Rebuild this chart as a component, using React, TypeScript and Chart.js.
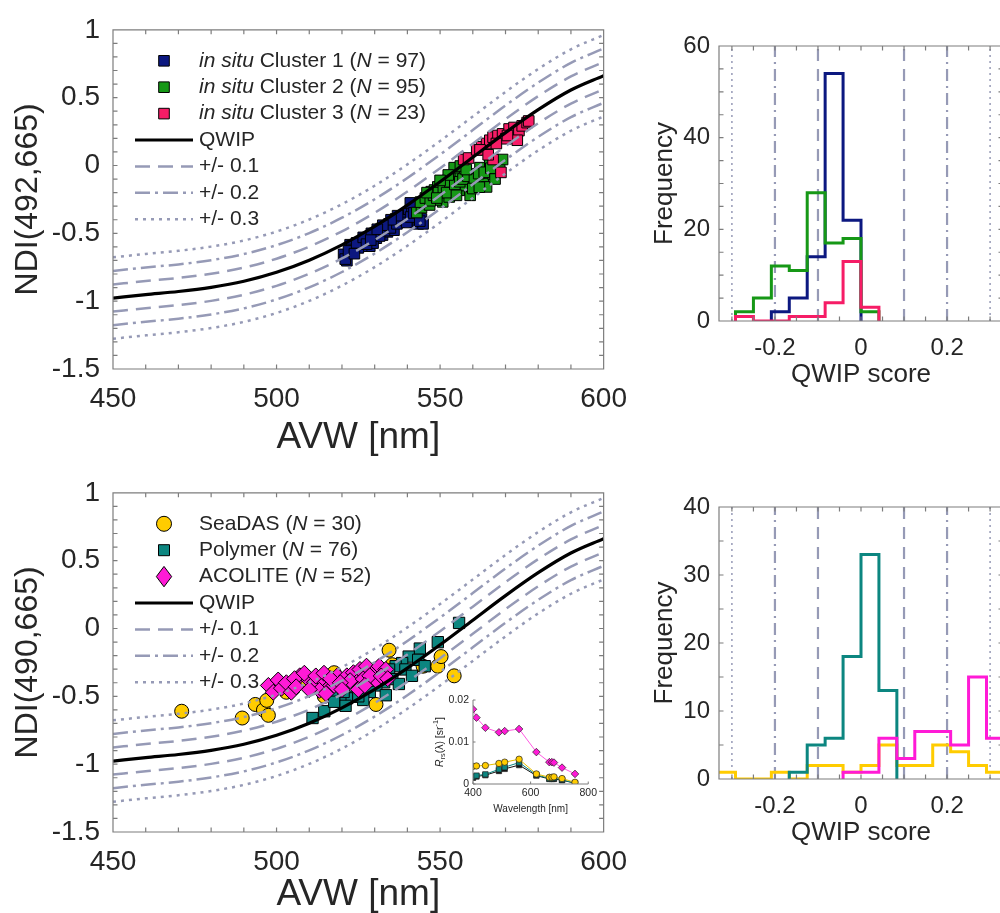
import React, { useEffect, useRef } from 'react';
import { Chart, registerables } from 'chart.js';

Chart.register(...registerables);

const FONT = '"Liberation Sans", Arial, Helvetica, sans-serif';
const INK = '#262626';
const AXIS = '#7d7d7d';
const REF = 'rgb(150,154,182)';

const BLUE = 'rgb(12,24,128)';
const GREEN = 'rgb(22,152,22)';
const CRIMSON = 'rgb(246,28,102)';
const TEAL = 'rgb(12,134,128)';
const GOLD = 'rgb(255,204,0)';
const MAGENTA = 'rgb(255,26,214)';

// ---------------- QWIP reference curve (read every 10 nm) ----------------
const AVW_GRID = [450, 460, 470, 480, 490, 500, 510, 520, 530, 540, 550, 560, 570, 580, 590, 600];
const QWIP_NDI = [-0.977, -0.952, -0.929, -0.898, -0.853, -0.787, -0.698, -0.585, -0.449, -0.292, -0.12, 0.061, 0.242, 0.411, 0.556, 0.662];
const BAND_OFFSETS = [0.1, 0.2, 0.3];
const BAND_DASH = [[15, 8], [15, 5, 3, 5], [3, 5]];
const BAND_LABELS = ['+/- 0.1', '+/- 0.2', '+/- 0.3'];

// ---------------- axes ----------------
const AVW_TICKS = [450, 500, 550, 600];
const AVW_MINOR = [460, 470, 480, 490, 510, 520, 530, 540, 560, 570, 580, 590];
const NDI_TICKS = [-1.5, -1, -0.5, 0, 0.5, 1];
const NDI_MINOR = [-1.4, -1.3, -1.2, -1.1, -0.9, -0.8, -0.7, -0.6, -0.4, -0.3, -0.2, -0.1, 0.1, 0.2, 0.3, 0.4, 0.6, 0.7, 0.8, 0.9];
const SCORE_TICKS = [-0.2, 0, 0.2];
const SCORE_MINOR = [-0.3, -0.25, -0.15, -0.1, -0.05, 0.05, 0.1, 0.15, 0.25, 0.3];
const FREQ_TICKS_TOP = [0, 20, 40, 60];
const FREQ_MINOR_TOP = [5, 10, 15, 25, 30, 35, 45, 50, 55];
const FREQ_TICKS_BOT = [0, 10, 20, 30, 40];
const FREQ_MINOR_BOT = [5, 15, 25, 35];
const SCORE_REF_LINES = [-0.3, -0.2, -0.1, 0.1, 0.2, 0.3];
const SCORE_REF_STYLE = [2, 1, 0, 0, 1, 2];

// ---------------- top scatter: in situ clusters ----------------
const C1_AVW = [520.5, 521.5, 522.5, 523.0, 521.0, 527.0, 528.0, 528.5, 530.0, 531.0, 532.0, 532.4, 533.4, 534.4, 535.4, 536.4, 537.4, 538.4, 539.4, 540.4, 541.4, 542.4, 543.3, 544.3, 544.8, 540.9, 530.5, 529.5, 533.9, 535.9, 526.0, 525.0,
  522.0, 523.8, 524.5, 526.5, 527.5, 529.0, 531.5, 533.0, 534.8, 536.8, 538.0, 539.8, 541.0, 542.0, 543.8, 537.0, 535.0, 532.5, 530.8, 528.8];
const C1_NDI = [-0.655, -0.702, -0.584, -0.619, -0.69, -0.56, -0.536, -0.595, -0.513, -0.489, -0.465, -0.513, -0.453, -0.43, -0.442, -0.394, -0.418, -0.371, -0.394, -0.347, -0.323, -0.418, -0.43, -0.394, -0.43, -0.276, -0.536, -0.572, -0.489, -0.477, -0.595, -0.607,
  -0.63, -0.65, -0.57, -0.53, -0.58, -0.5, -0.52, -0.48, -0.46, -0.43, -0.4, -0.42, -0.38, -0.35, -0.41, -0.37, -0.4, -0.44, -0.47, -0.55];
const C2_AVW = [542.9, 544.3, 545.3, 546.3, 547.3, 548.3, 549.3, 550.3, 551.3, 552.3, 553.3, 554.3, 555.3, 556.2, 557.2, 558.2, 559.2, 559.7, 560.2, 561.2, 562.2, 563.2, 564.2, 565.2, 566.2, 567.2, 568.2, 569.1, 550.8, 552.8, 555.8, 557.7, 546.8, 548.8, 554.3, 556.2,
  544.0, 545.5, 547.0, 548.0, 549.5, 551.0, 552.0, 553.0, 554.5, 556.0, 557.0, 558.5, 560.5, 561.8, 563.5, 565.5, 566.8, 558.0, 552.5, 550.0, 546.0, 549.0, 555.0, 560.0, 562.0];
const C2_NDI = [-0.347, -0.311, -0.276, -0.229, -0.193, -0.181, -0.158, -0.217, -0.134, -0.11, -0.158, -0.087, -0.063, -0.087, -0.039, -0.18, -0.22, -0.158, -0.063, -0.11, -0.016, -0.134, -0.158, 0.008, -0.063, 0.032, -0.016, 0.044, -0.268, -0.232, -0.183, -0.148, -0.291, -0.254, -0.016, -0.004,
  -0.27, -0.24, -0.26, -0.22, -0.2, -0.18, -0.2, -0.12, -0.14, -0.12, -0.1, -0.08, -0.1, -0.06, -0.05, -0.02, -0.1, -0.03, -0.07, -0.11, -0.2, -0.24, -0.22, -0.17, -0.16];
const C3_AVW = [557.2, 558.7, 561.2, 562.7, 564.2, 565.2, 566.2, 567.7, 569.1, 570.1, 571.1, 572.6, 574.1, 575.1, 576.6, 577.1, 573.6, 566.2, 568.6, 562.2, 564.7, 567.2, 570.6];
const C3_NDI = [0.044, 0.055, 0.115, 0.138, 0.162, 0.186, 0.209, 0.221, 0.233, 0.197, 0.269, 0.28, 0.257, 0.292, 0.316, 0.328, 0.186, 0.044, -0.051, 0.115, 0.079, 0.162, 0.221];

// ---------------- bottom scatter: satellite processors ----------------
const SEADAS_AVW = [471.0, 489.5, 493.5, 496.0, 497.5, 497.0, 503.0, 509.0, 514.6, 517.6, 530.4, 534.4, 535.4, 544.8, 549.3, 550.3, 554.3];
const SEADAS_NDI = [-0.61, -0.66, -0.56, -0.6, -0.64, -0.53, -0.47, -0.38, -0.5, -0.326, -0.56, -0.16, -0.267, -0.278, -0.278, -0.207, -0.349];
const POLY_AVW = [555.8, 549.3, 543.8, 540.4, 538.4, 536.4, 534.4, 539.4, 541.4, 535.4, 532.9, 530.5, 528.5, 525.5, 523.5, 521.5, 519.5, 517.6, 531.4, 537.4, 533.4, 526.5, 520.5, 543.3, 545.3, 511.0, 514.6, 517.6, 521.1, 525.0];
const POLY_NDI = [0.041, -0.101, -0.148, -0.207, -0.255, -0.278, -0.302, -0.302, -0.349, -0.373, -0.397, -0.42, -0.468, -0.48, -0.503, -0.515, -0.539, -0.503, -0.349, -0.409, -0.492, -0.527, -0.468, -0.231, -0.278, -0.66, -0.61, -0.54, -0.57, -0.5];
const ACO_AVW = [507.1, 509.6, 511.6, 513.6, 515.6, 518.6, 521.5, 523.5, 525.5, 527.5, 529.5, 531.4, 533.4, 524.5, 522.5, 526.5, 530.5, 528.5, 517.6, 513.1, 515.1, 497.5, 499.0, 500.5, 501.5, 503.0, 504.5, 505.5, 506.0, 508.5, 510.0, 512.0, 514.5, 516.5, 519.5, 520.0, 525.0, 527.0, 532.0, 534.0];
const ACO_NDI = [-0.349, -0.373, -0.397, -0.373, -0.444, -0.349, -0.349, -0.326, -0.302, -0.278, -0.326, -0.278, -0.302, -0.397, -0.385, -0.373, -0.385, -0.349, -0.42, -0.456, -0.48, -0.42, -0.47, -0.38, -0.44, -0.4, -0.47, -0.37, -0.43, -0.33, -0.45, -0.35, -0.33, -0.37, -0.4, -0.45, -0.45, -0.42, -0.35, -0.37];

// ---------------- histograms (bin width 1/24, first bin index, counts) ----------------
const BIN_WIDTH = 1 / 24;
const H_C1_FIRST = -5;
const H_C1_COUNTS = [2, 5, 14, 54, 22];
const H_C2_FIRST = -7;
const H_C2_COUNTS = [2, 5, 12, 11, 28, 17, 18, 2];
const H_C3_FIRST = -7;
const H_C3_COUNTS = [1, 0, 0, 1, 1, 4, 13, 3];
const H_SEADAS_FIRST = -8;
const H_SEADAS_COUNTS = [1, 0, 0, 1, 0, 2, 2, 1, 2, 5, 2, 2, 5, 4, 2, 1];
const H_POLY_FIRST = -4;
const H_POLY_COUNTS = [1, 5, 6, 18, 33, 13];
const H_ACO_FIRST = -1;
const H_ACO_COUNTS = [1, 1, 6, 3, 7, 7, 5, 15, 6, 1];

// ---------------- inset spectra ----------------
const WAVELENGTH = [400, 412, 443, 490, 510, 560, 620, 665, 674, 681, 709, 754];
const RRS_ACOLITE = [0.0178, 0.0158, 0.0134, 0.0123, 0.0126, 0.0131, 0.0076, 0.0052, 0.0052, 0.0051, 0.0039, 0.0024];
const RRS_SEADAS = [0.0042, 0.0043, 0.0044, 0.0049, 0.0052, 0.0059, 0.0024, 0.0016, 0.0016, 0.0017, 0.0013, 0.0004];
const RRS_POLYMER = [0.0017, 0.002, 0.0023, 0.0035, 0.004, 0.0051, 0.0022, 0.0013, 0.0013, 0.0014, 0.001, 0.0002];
const RRS_INSITU = [0.0015, 0.0018, 0.0021, 0.0031, 0.0036, 0.0045, 0.002, 0.0012, 0.0012, 0.0012, 0.0009, 0.0002];
const WL_TICKS = [400, 600, 800];
const RRS_TICKS = [0, 0.01, 0.02];

// ---------------- legend text ----------------
const TOP_LABELS: any[] = [
  [['in situ', true], [' Cluster 1 ('], ['N', true], [' = 97)']],
  [['in situ', true], [' Cluster 2 ('], ['N', true], [' = 95)']],
  [['in situ', true], [' Cluster 3 ('], ['N', true], [' = 23)']],
];
const BOTTOM_LABELS: any[] = [
  [['SeaDAS ('], ['N', true], [' = 30)']],
  [['Polymer ('], ['N', true], [' = 76)']],
  [['ACOLITE ('], ['N', true], [' = 52)']],
];

// ================= helpers =================
const pts = (xs: number[], ys: number[]) => xs.map((x, i) => ({ x, y: ys[i] }));

function partsWidth(ctx: any, parts: any[], size: number) {
  let w = 0;
  for (const p of parts) {
    const s = p[2] ? size * 0.7 : size;
    ctx.font = `${p[1] ? 'italic ' : ''}${s}px ${FONT}`;
    w += ctx.measureText(p[0]).width;
  }
  return w;
}

function drawParts(ctx: any, parts: any[], x: number, y: number, size: number) {
  ctx.fillStyle = INK;
  ctx.textBaseline = 'middle';
  ctx.textAlign = 'left';
  let cx = x;
  for (const p of parts) {
    const s = p[2] ? size * 0.7 : size;
    ctx.font = `${p[1] ? 'italic ' : ''}${s}px ${FONT}`;
    const dy = p[2] === 'sub' ? size * 0.3 : p[2] === 'sup' ? -size * 0.38 : 0;
    ctx.fillText(p[0], cx, y + dy);
    cx += ctx.measureText(p[0]).width;
  }
}

function drawMarker(ctx: any, shape: string, x: number, y: number, size: number, fill: string) {
  ctx.save();
  ctx.fillStyle = fill;
  ctx.strokeStyle = '#000';
  ctx.lineWidth = 1;
  ctx.setLineDash([]);
  ctx.beginPath();
  if (shape === 'rect') ctx.rect(x - size / 2, y - size / 2, size, size);
  else if (shape === 'circle') ctx.arc(x, y, size / 2, 0, Math.PI * 2);
  else {
    ctx.moveTo(x, y - size * 0.6);
    ctx.lineTo(x + size * 0.45, y);
    ctx.lineTo(x, y + size * 0.6);
    ctx.lineTo(x - size * 0.45, y);
    ctx.closePath();
  }
  ctx.fill();
  ctx.stroke();
  ctx.restore();
}

const framePlugin = {
  id: 'frame',
  afterDatasetsDraw(chart: any, _a: any, o: any) {
    const { ctx, chartArea: a } = chart;
    const xs = chart.scales.x;
    const ys = chart.scales.y;
    ctx.save();
    ctx.strokeStyle = o.color;
    ctx.lineWidth = o.lineWidth;
    ctx.setLineDash([]);
    ctx.beginPath();
    if (o.box) ctx.rect(a.left, a.top, a.right - a.left, a.bottom - a.top);
    else {
      ctx.moveTo(a.left, a.top);
      ctx.lineTo(a.left, a.bottom);
      ctx.lineTo(a.right, a.bottom);
    }
    const L = o.len;
    const xv = [...xs.ticks.map((t: any) => t.value), ...(o.xMinor || [])];
    for (const v of xv) {
      const p = xs.getPixelForValue(v);
      if (p < a.left - 0.5 || p > a.right + 0.5) continue;
      ctx.moveTo(p, a.bottom);
      ctx.lineTo(p, a.bottom - L);
      if (o.box) {
        ctx.moveTo(p, a.top);
        ctx.lineTo(p, a.top + L);
      }
    }
    const yv = [...ys.ticks.map((t: any) => t.value), ...(o.yMinor || [])];
    for (const v of yv) {
      const p = ys.getPixelForValue(v);
      if (p < a.top - 0.5 || p > a.bottom + 0.5) continue;
      ctx.moveTo(a.left, p);
      ctx.lineTo(a.left + L, p);
      if (o.box) {
        ctx.moveTo(a.right, p);
        ctx.lineTo(a.right - L, p);
      }
    }
    ctx.stroke();
    ctx.restore();
  },
};

const legendPlugin = {
  id: 'qlegend',
  afterDraw(chart: any, _a: any, o: any) {
    if (!o || !o.items) return;
    const { ctx, chartArea: a } = chart;
    ctx.save();
    o.items.forEach((it: any, k: number) => {
      const y = a.top + o.y0 + k * o.step;
      if (it.kind === 'line') {
        ctx.save();
        ctx.strokeStyle = it.color;
        ctx.lineWidth = it.width;
        ctx.setLineDash(it.dash);
        ctx.beginPath();
        ctx.moveTo(a.left + o.lx0, y);
        ctx.lineTo(a.left + o.lx1, y);
        ctx.stroke();
        ctx.restore();
      } else {
        drawMarker(ctx, it.shape, a.left + o.mx, y, it.size, it.color);
      }
      drawParts(ctx, it.parts, a.left + o.tx, y, o.size);
    });
    ctx.restore();
  },
};

const insetTitlePlugin = {
  id: 'insetTitle',
  afterDraw(chart: any, _a: any, o: any) {
    if (!o || !o.parts) return;
    const { ctx, chartArea: a } = chart;
    ctx.save();
    const w = partsWidth(ctx, o.parts, o.size);
    ctx.translate(a.left - o.dx, (a.top + a.bottom) / 2);
    ctx.rotate(-Math.PI / 2);
    drawParts(ctx, o.parts, -w / 2, 0, o.size);
    ctx.restore();
  },
};

function fixedTicks(values: number[]) {
  return (s: any) => {
    s.ticks = values.map((v) => ({ value: v }));
  };
}

function bandDatasets() {
  const out: any[] = [];
  BAND_OFFSETS.forEach((b, k) => {
    [1, -1].forEach((sg) => {
      out.push({
        data: AVW_GRID.map((x, i) => ({ x, y: QWIP_NDI[i] + sg * b })),
        showLine: true,
        pointRadius: 0,
        borderColor: REF,
        borderWidth: 2.5,
        borderDash: BAND_DASH[k],
        cubicInterpolationMode: 'monotone',
        order: 1,
      });
    });
  });
  return out;
}

function legendItems(markers: any[], labels: any[]) {
  const items: any[] = markers.map((m, k) => ({ kind: 'marker', shape: m.shape, size: m.size, color: m.color, parts: labels[k] }));
  items.push({ kind: 'line', color: '#000', width: 3, dash: [], parts: [['QWIP']] });
  BAND_LABELS.forEach((t, k) => items.push({ kind: 'line', color: REF, width: 2.5, dash: BAND_DASH[k], parts: [[t]] }));
  return items;
}

function ndiConfig(yTitle: string, pointSets: any[], items: any[], xTitlePad: number) {
  return {
    type: 'scatter',
    data: {
      datasets: [
        {
          data: pts(AVW_GRID, QWIP_NDI),
          showLine: true,
          pointRadius: 0,
          borderColor: '#000',
          borderWidth: 3.2,
          cubicInterpolationMode: 'monotone',
          order: 0,
        },
        ...bandDatasets(),
        ...pointSets,
      ],
    },
    options: {
      responsive: false,
      animation: false,
      events: [],
      layout: { padding: { left: 0, top: 17, right: 23, bottom: 0 } },
      plugins: {
        legend: { display: false },
        tooltip: { enabled: false },
        frame: { xMinor: AVW_MINOR, yMinor: NDI_MINOR, box: true, len: 4.5, color: AXIS, lineWidth: 1.2 },
        qlegend: { items, y0: 31, step: 26.4, mx: 51, tx: 86, lx0: 22, lx1: 80, size: 21 },
      },
      scales: {
        x: {
          type: 'linear',
          min: 450,
          max: 600,
          afterBuildTicks: fixedTicks(AVW_TICKS),
          afterFit: (s: any) => { s.height = 91; },
          grid: { display: false, drawTicks: false },
          border: { display: false },
          ticks: { font: { family: FONT, size: 28 }, color: INK, padding: 13, maxRotation: 0, autoSkip: false, callback: (v: any) => String(v) },
          title: { display: true, text: 'AVW [nm]', font: { family: FONT, size: 37 }, color: INK, padding: { top: 0, bottom: xTitlePad } },
        },
        y: {
          type: 'linear',
          min: -1.5,
          max: 1,
          afterBuildTicks: fixedTicks(NDI_TICKS),
          afterFit: (s: any) => { s.width = 113; },
          grid: { display: false, drawTicks: false },
          border: { display: false },
          ticks: { font: { family: FONT, size: 28 }, color: INK, padding: 13, autoSkip: false, callback: (v: any) => String(v) },
          title: { display: true, text: yTitle, font: { family: FONT, size: 32 }, color: INK, padding: { top: 9, bottom: 0 } },
        },
      },
    },
    plugins: [framePlugin, legendPlugin],
  };
}

function stairs(first: number, counts: number[]) {
  const e = (k: number) => (first + k) * BIN_WIDTH;
  const d: any[] = [{ x: e(0), y: 0 }];
  counts.forEach((c, k) => d.push({ x: e(k), y: c }));
  d.push({ x: e(counts.length), y: 0 });
  return d;
}

function histConfig(areaTop: number, areaBottom: number, yMax: number, yTicks: number[], yMinor: number[], series: any[]) {
  const refs = SCORE_REF_LINES.map((v, k) => ({
    data: [{ x: v, y: 0 }, { x: v, y: yMax }],
    showLine: true,
    pointRadius: 0,
    borderColor: REF,
    borderWidth: SCORE_REF_STYLE[k] === 2 ? 1.5 : 2.2,
    borderDash: SCORE_REF_STYLE[k] === 0 ? [12, 8] : SCORE_REF_STYLE[k] === 1 ? [12, 5, 2, 5] : [2, 4],
    order: 5,
  }));
  const lines = series.map((s) => ({
    data: stairs(s.first, s.counts),
    showLine: true,
    stepped: true,
    pointRadius: 0,
    borderColor: s.color,
    borderWidth: 3,
    borderJoinStyle: 'miter',
    order: s.order,
  }));
  const xH = 460 - areaBottom;
  return {
    type: 'scatter',
    data: { datasets: [...lines, ...refs] },
    options: {
      responsive: false,
      animation: false,
      events: [],
      layout: { padding: { left: 0, top: areaTop, right: 17, bottom: 0 } },
      plugins: {
        legend: { display: false },
        tooltip: { enabled: false },
        frame: { xMinor: SCORE_MINOR, yMinor, box: true, len: 4.5, color: AXIS, lineWidth: 1.2 },
      },
      scales: {
        x: {
          type: 'linear',
          min: -0.33,
          max: 0.33,
          afterBuildTicks: fixedTicks(SCORE_TICKS),
          afterFit: (s: any) => { s.height = xH; },
          grid: { display: false, drawTicks: false },
          border: { display: false },
          ticks: { font: { family: FONT, size: 24 }, color: INK, padding: 13, maxRotation: 0, autoSkip: false, callback: (v: any) => String(v) },
          title: { display: true, text: 'QWIP score', font: { family: FONT, size: 26 }, color: INK, padding: { top: 0, bottom: xH - 54 - 15.6 } },
        },
        y: {
          type: 'linear',
          min: 0,
          max: yMax,
          afterBuildTicks: fixedTicks(yTicks),
          afterFit: (s: any) => { s.width = 79; },
          grid: { display: false, drawTicks: false },
          border: { display: false },
          ticks: { font: { family: FONT, size: 24 }, color: INK, padding: 9, autoSkip: false, callback: (v: any) => String(v) },
          title: { display: true, text: 'Frequency', font: { family: FONT, size: 26 }, color: INK, padding: { top: 9.4, bottom: 0 } },
        },
      },
    },
    plugins: [framePlugin],
  };
}

function insetConfig() {
  const mk = (ys: number[], color: string, line: string, style: string, r: number, order: number) => ({
    data: pts(WAVELENGTH, ys),
    showLine: true,
    borderColor: line,
    borderWidth: 1,
    pointStyle: style,
    pointRadius: r,
    pointBackgroundColor: color,
    pointBorderColor: '#222',
    pointBorderWidth: 0.7,
    order,
  });
  return {
    type: 'scatter',
    data: {
      datasets: [
        mk(RRS_ACOLITE, MAGENTA, 'rgb(255,90,225)', 'rectRot', 3.8, 0),
        mk(RRS_SEADAS, GOLD, 'rgb(230,190,0)', 'circle', 3.2, 1),
        mk(RRS_POLYMER, TEAL, TEAL, 'rect', 3.8, 2),
        mk(RRS_INSITU, '#111', '#111', 'rect', 3.8, 3),
      ],
    },
    options: {
      responsive: false,
      animation: false,
      events: [],
      layout: { padding: { left: 0, top: 20, right: 9, bottom: 0 } },
      plugins: {
        legend: { display: false },
        tooltip: { enabled: false },
        frame: { xMinor: [], yMinor: [], box: false, len: 2.5, color: AXIS, lineWidth: 1 },
        insetTitle: { parts: [['R', true], ['rs', false, 'sub'], ['(λ) [sr'], ['-1', false, 'sup'], [']']], size: 10.5, dx: 33 },
      },
      scales: {
        x: {
          type: 'linear',
          min: 400,
          max: 800,
          afterBuildTicks: fixedTicks(WL_TICKS),
          afterFit: (s: any) => { s.height = 41; },
          grid: { display: false, drawTicks: false },
          border: { display: false },
          ticks: { font: { family: FONT, size: 10.5 }, color: INK, padding: 3, maxRotation: 0, autoSkip: false, callback: (v: any) => String(v) },
          title: { display: true, text: 'Wavelength [nm]', font: { family: FONT, size: 10 }, color: INK, padding: { top: 0, bottom: 10 } },
        },
        y: {
          type: 'linear',
          min: 0,
          max: 0.02,
          afterBuildTicks: fixedTicks(RRS_TICKS),
          afterFit: (s: any) => { s.width = 73; },
          grid: { display: false, drawTicks: false },
          border: { display: false },
          ticks: { font: { family: FONT, size: 10.5 }, color: INK, padding: 4, autoSkip: false, callback: (v: any) => String(v) },
        },
      },
    },
    plugins: [framePlugin, insetTitlePlugin],
  };
}

function ChartBox(props: { left: number; top: number; width: number; height: number; make: () => any }) {
  const ref = useRef<HTMLCanvasElement>(null);
  useEffect(() => {
    const chart = new Chart(ref.current as any, props.make());
    return () => chart.destroy();
  }, []);
  return (
    <canvas
      ref={ref}
      width={props.width}
      height={props.height}
      style={{ position: 'absolute', left: props.left, top: props.top, width: props.width, height: props.height }}
    />
  );
}

export default function App() {
  const topScatter = () =>
    ndiConfig(
      'NDI(492,665)',
      [
        { data: pts(C1_AVW, C1_NDI), pointStyle: 'rect', pointRadius: 7.5, pointBackgroundColor: BLUE, pointBorderColor: '#000', pointBorderWidth: 1, order: 6 },
        { data: pts(C2_AVW, C2_NDI), pointStyle: 'rect', pointRadius: 7.5, pointBackgroundColor: GREEN, pointBorderColor: '#000', pointBorderWidth: 1, order: 5 },
        { data: pts(C3_AVW, C3_NDI), pointStyle: 'rect', pointRadius: 7.5, pointBackgroundColor: CRIMSON, pointBorderColor: '#000', pointBorderWidth: 1, order: 4 },
      ],
      legendItems(
        [
          { shape: 'rect', size: 10.6, color: BLUE },
          { shape: 'rect', size: 10.6, color: GREEN },
          { shape: 'rect', size: 10.6, color: CRIMSON },
        ],
        TOP_LABELS
      ),
      0
    );
  const bottomScatter = () =>
    ndiConfig(
      'NDI(490,665)',
      [
        { data: pts(SEADAS_AVW, SEADAS_NDI), pointStyle: 'circle', pointRadius: 7, pointBackgroundColor: GOLD, pointBorderColor: '#000', pointBorderWidth: 1, order: 6 },
        { data: pts(POLY_AVW, POLY_NDI), pointStyle: 'rect', pointRadius: 8, pointBackgroundColor: TEAL, pointBorderColor: '#000', pointBorderWidth: 1, order: 5 },
        { data: pts(ACO_AVW, ACO_NDI), pointStyle: 'rectRot', pointRadius: 8, pointBackgroundColor: MAGENTA, pointBorderColor: '#000', pointBorderWidth: 1, order: 4 },
      ],
      legendItems(
        [
          { shape: 'circle', size: 15, color: GOLD },
          { shape: 'rect', size: 11, color: TEAL },
          { shape: 'diamond', size: 17, color: MAGENTA },
        ],
        BOTTOM_LABELS
      ),
      6
    );
  const topHist = () =>
    histConfig(46, 321, 60, FREQ_TICKS_TOP, FREQ_MINOR_TOP, [
      { first: H_C1_FIRST, counts: H_C1_COUNTS, color: BLUE, order: 2 },
      { first: H_C2_FIRST, counts: H_C2_COUNTS, color: GREEN, order: 1 },
      { first: H_C3_FIRST, counts: H_C3_COUNTS, color: CRIMSON, order: 0 },
    ]);
  const bottomHist = () =>
    histConfig(46, 318, 40, FREQ_TICKS_BOT, FREQ_MINOR_BOT, [
      { first: H_SEADAS_FIRST, counts: H_SEADAS_COUNTS, color: GOLD, order: 2 },
      { first: H_POLY_FIRST, counts: H_POLY_COUNTS, color: TEAL, order: 1 },
      { first: H_ACO_FIRST, counts: H_ACO_COUNTS, color: MAGENTA, order: 0 },
    ]);
  return (
    <div style={{ position: 'fixed', left: 0, top: 0, width: 1000, height: 913, overflow: 'hidden', background: '#fff' }}>
      <ChartBox left={0} top={0} width={640} height={460} make={topScatter} />
      <ChartBox left={0} top={463} width={640} height={460} make={bottomScatter} />
      <ChartBox left={640} top={0} width={380} height={460} make={topHist} />
      <ChartBox left={640} top={461} width={380} height={460} make={bottomHist} />
      <ChartBox left={400} top={680} width={200} height={145} make={insetConfig} />
    </div>
  );
}
